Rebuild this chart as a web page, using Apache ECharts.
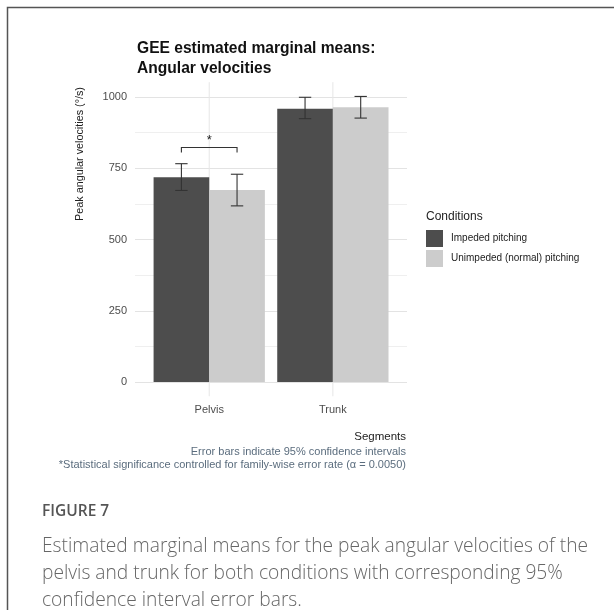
<!DOCTYPE html>
<html><head><meta charset="utf-8">
<script src="https://cdn.jsdelivr.net/npm/echarts@6/dist/echarts.min.js"></script>
<style>html,body{margin:0;padding:0;background:#fff}#c{width:614px;height:610px}</style>
</head><body><div id="c"></div>
<script>
const categories = ['Pelvis', 'Trunk'];
const conditionNames = ['Impeded pitching', 'Unimpeded (normal) pitching'];
const impededMeans = [718, 959];
const unimpededMeans = [674, 964];
const impededLow = [672, 924];
const impededHigh = [766, 999];
const unimpededLow = [618, 926];
const unimpededHigh = [729, 1002];
const yTicks = [0, 250, 500, 750, 1000];
const bracket = { from: 0, low: 805, high: 823, labelAt: 846, label: '*' };

const chart = echarts.init(document.getElementById('c'), null, {renderer: 'canvas'});
const FONT = '"Liberation Sans", Arial, sans-serif';
const DARK = '#4d4d4d', LIGHT = '#cccccc';

function errData(low, high) { return categories.map((c, i) => [i, low[i], high[i]]); }
function errRender(offsetSign) {
  return function (params, api) {
    const band = api.size([1, 0])[0];
    const ci = api.value(0);
    const pLow = api.coord([ci, api.value(1)]);
    const pHigh = api.coord([ci, api.value(2)]);
    const x = pLow[0] + offsetSign * 0.225 * band;
    const cap = 0.05 * band;
    const st = {stroke: '#333333', lineWidth: 1.1};
    return {type: 'group', children: [
      {type: 'line', shape: {x1: x, y1: pLow[1], x2: x, y2: pHigh[1]}, style: st},
      {type: 'line', shape: {x1: x - cap, y1: pLow[1], x2: x + cap, y2: pLow[1]}, style: st},
      {type: 'line', shape: {x1: x - cap, y1: pHigh[1], x2: x + cap, y2: pHigh[1]}, style: st}
    ]};
  };
}

const option = {
  backgroundColor: '#ffffff',
  animation: false,
  textStyle: {fontFamily: FONT},
  grid: [
    {left: 135, width: 272, top: 97, bottom: 228, containLabel: false},
    {left: 147.4, width: 247.3, top: 97, bottom: 228, containLabel: false}
  ],
  xAxis: [
    {gridIndex: 0, type: 'value', min: 0, max: 1, show: false},
    {gridIndex: 1, type: 'category', data: categories,
     axisLine: {show: false}, axisTick: {show: false}, splitLine: {show: false},
     axisLabel: {fontSize: 11, color: '#4d4d4d', margin: 22, fontFamily: FONT}}
  ],
  yAxis: [
    {gridIndex: 0, type: 'value', min: 0, max: 1000, interval: 125,
     axisLine: {show: false}, axisTick: {show: false},
     axisLabel: {fontSize: 11, color: '#4d4d4d', margin: 8, fontFamily: FONT,
       formatter: v => (yTicks.indexOf(v) >= 0 ? String(v) : '')},
     splitLine: {show: true, lineStyle: {color: ['#e3e3e3', '#efefef'], width: 1}}},
    {gridIndex: 1, type: 'value', min: 0, max: 1000, show: false}
  ],
  legend: {
    orient: 'vertical', left: 426, top: 230, padding: 0, itemWidth: 17, itemHeight: 17, itemGap: 3,
    icon: 'rect', data: conditionNames,
    textStyle: {fontSize: 10, color: '#222', fontFamily: FONT, padding: [0, 0, 0, 3]}
  },
  series: [
    {type: 'custom', xAxisIndex: 1, yAxisIndex: 1, z: 0, silent: true,
     data: categories.map((c, i) => [i]),
     renderItem: function (params, api) {
       const top = api.coord([api.value(0), 1052]);
       const bot = api.coord([api.value(0), -50]);
       return {type: 'line', shape: {x1: top[0], y1: top[1], x2: bot[0], y2: bot[1]},
               style: {stroke: '#e6e6e6', lineWidth: 1}};
     }},
    {name: conditionNames[0], type: 'bar', xAxisIndex: 1, yAxisIndex: 1, data: impededMeans,
     barGap: '0%', barCategoryGap: '10%', itemStyle: {color: DARK}, z: 2},
    {name: conditionNames[1], type: 'bar', xAxisIndex: 1, yAxisIndex: 1, data: unimpededMeans,
     barGap: '0%', barCategoryGap: '10%', itemStyle: {color: LIGHT}, z: 2},
    {type: 'custom', xAxisIndex: 1, yAxisIndex: 1, z: 5, silent: true,
     data: errData(impededLow, impededHigh), renderItem: errRender(-1)},
    {type: 'custom', xAxisIndex: 1, yAxisIndex: 1, z: 5, silent: true,
     data: errData(unimpededLow, unimpededHigh), renderItem: errRender(1)},
    {type: 'custom', xAxisIndex: 1, yAxisIndex: 1, z: 5, silent: true,
     data: [[bracket.from, bracket.low, bracket.high, bracket.labelAt]],
     renderItem: function (params, api) {
       const band = api.size([1, 0])[0];
       const ci = api.value(0);
       const pl = api.coord([ci, api.value(1)]);
       const ph = api.coord([ci, api.value(2)]);
       const pt = api.coord([ci, api.value(3)]);
       const x1 = pl[0] - 0.225 * band, x2 = pl[0] + 0.225 * band;
       const st = {stroke: '#333333', lineWidth: 1.1, fill: null};
       return {type: 'group', children: [
         {type: 'polyline', shape: {points: [[x1, pl[1]], [x1, ph[1]], [x2, ph[1]], [x2, pl[1]]]}, style: st},
         {type: 'text', x: pl[0], y: pt[1], style: {text: bracket.label, fontSize: 13, fill: '#222',
           fontFamily: FONT, align: 'center', verticalAlign: 'middle'}}
       ]};
     }}
  ],
  graphic: [
    {type: 'polyline', shape: {points: [[7.5, 610], [7.5, 7.5], [614, 7.5]]},
     style: {stroke: '#555555', lineWidth: 1.5, fill: null}},
    {type: 'text', left: 137, top: 39, style: {text: 'GEE estimated marginal means:\nAngular velocities',
      fontSize: 15.6, fontWeight: 'bold', fill: '#111', fontFamily: FONT, lineHeight: 20}},
    {type: 'text', x: 80, y: 154, rotation: Math.PI / 2,
     style: {text: 'Peak angular velocities (°/s)', fontSize: 10.8, fill: '#222', fontFamily: FONT,
       align: 'center', verticalAlign: 'middle'}},
    {type: 'text', x: 406, y: 437, style: {text: 'Segments', fontSize: 11.5, fill: '#222', fontFamily: FONT,
      align: 'right', verticalAlign: 'middle'}},
    {type: 'text', x: 406, y: 452, style: {text: 'Error bars indicate 95% confidence intervals',
      fontSize: 11, fill: '#5b6d7e', fontFamily: FONT, align: 'right', verticalAlign: 'middle'}},
    {type: 'text', x: 406, y: 465, style: {text: '*Statistical significance controlled for family-wise error rate (α = 0.0050)',
      fontSize: 11, fill: '#5b6d7e', fontFamily: FONT, align: 'right', verticalAlign: 'middle'}},
    {type: 'text', x: 426, y: 217, style: {text: 'Conditions', fontSize: 12, fill: '#222', fontFamily: FONT,
      verticalAlign: 'middle'}},
    {type: 'text', x: 42, y: 512, style: {text: 'FIGURE 7', fontSize: 15.5, fill: '#555555', fontWeight: 600,
      fontFamily: '"Open Sans", sans-serif', verticalAlign: 'middle'}},
    {type: 'text', x: 42, y: 533, style: {text: 'Estimated marginal means for the peak angular velocities of the\npelvis and trunk for both conditions with corresponding 95%\nconfidence interval error bars.',
      fontSize: 19.2, lineHeight: 27, fill: '#666666', fontWeight: 300,
      fontFamily: '"Open Sans", sans-serif', verticalAlign: 'top'}}
  ]
};
chart.setOption(option);
</script></body></html>
